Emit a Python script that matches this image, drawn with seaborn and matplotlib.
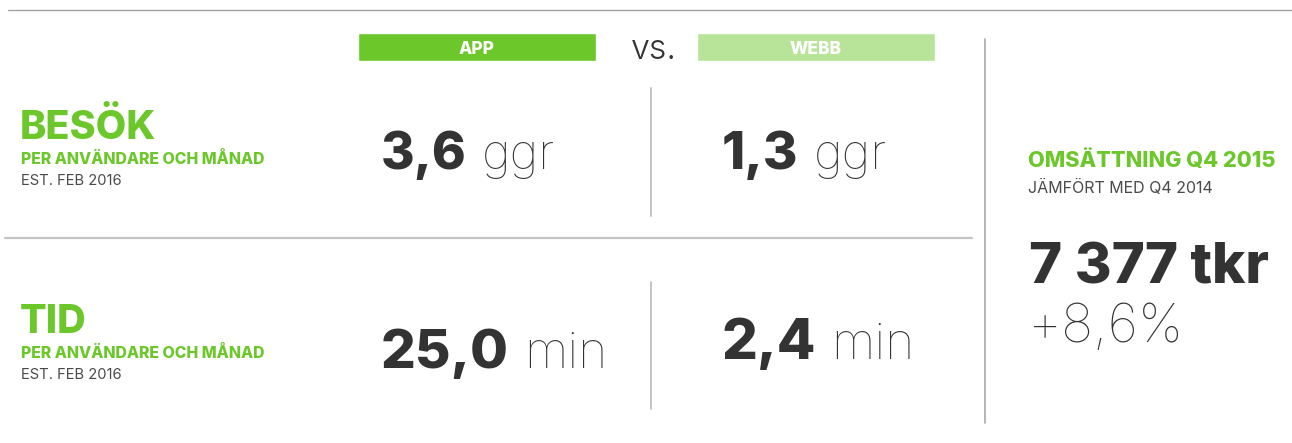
import numpy as np
import pandas as pd
import seaborn as sns
import matplotlib.pyplot as plt

# values read from the infographic
metrics = ["BESÖK", "TID"]
metric_subtitle = "PER ANVÄNDARE OCH MÅNAD"
metric_note = "EST. FEB 2016"
channels = ["APP", "WEBB"]
app_values = ["3,6", "25,0"]
web_values = ["1,3", "2,4"]
units = ["ggr", "min"]
revenue_title = "OMSÄTTNING Q4 2015"
revenue_note = "JÄMFÖRT MED Q4 2014"
revenue_value = "7 377 tkr"
revenue_change = "+8,6%"

GREEN = "#6cc72b"
LIGHT_GREEN = "#b8e49a"
DARK = "#333333"
GRAY = "#4a4a4a"
LINE = "#c4c4c4"

sns.set_theme(style="white")
plt.rcParams["font.family"] = ["Inter", "DejaVu Sans"]

fig = plt.figure(figsize=(12.92, 4.43), dpi=100)
ax = fig.add_axes([0, 0, 1, 1])
ax.set_xlim(0, 1292)
ax.set_ylim(443, 0)
ax.axis("off")

# frame lines
ax.plot([8, 1292], [9.5, 9.5], color="#a3a3a3", lw=1)
ax.plot([5, 972], [237.5, 237.5], color=LINE, lw=1.6)
ax.plot([651, 651], [88, 216], color=LINE, lw=1.4)
ax.plot([651, 651], [282, 409], color=LINE, lw=1.4)
ax.plot([984.5, 984.5], [39, 423], color="#a8a8a8", lw=1.2)

# channel header bars
header = pd.DataFrame({"channel": channels, "left": [358, 697], "color": [GREEN, LIGHT_GREEN]})
ax.barh(y=47, width=238, left=header["left"], height=28, color=header["color"])
for _, r in header.iterrows():
    ax.text(r["left"] + 119, 54, r["channel"], color="white", fontsize=12.5,
            fontweight=800, ha="center", va="baseline")
ax.text(631, 59, "vs.", color=DARK, fontsize=24.5, fontweight=300, va="baseline")

# row labels
title_base = [139, 333]
for i, m in enumerate(metrics):
    ax.text(20, title_base[i], m, color=GREEN, fontsize=28.5, fontweight=800, va="baseline")
    ax.text(21, title_base[i] + 25, metric_subtitle, color=GREEN, fontsize=11.4,
            fontweight=800, va="baseline")
    ax.text(21, title_base[i] + 46, metric_note, color=GRAY, fontsize=10.6, va="baseline")

renderer = fig.canvas.get_renderer()


def value_with_unit(x, y, value, unit, size, usize):
    t = ax.text(x, y, value, color=DARK, fontsize=size, fontweight=800, va="baseline")
    x1 = t.get_window_extent(renderer).x1
    ax.text(x1 + 15, y, unit, color=DARK, fontsize=usize, fontweight=100, va="baseline")


app_base = [169, 368]
web_base = [169, 359]
app_size = [37, 39.5]
web_size = [38, 40.6]
unit_size = [35.5, 36]
for i in range(len(metrics)):
    value_with_unit(381, app_base[i], app_values[i], units[i], app_size[i], unit_size[i])
    value_with_unit(722, web_base[i], web_values[i], units[i], web_size[i], unit_size[i])

# revenue block
ax.text(1028, 167, revenue_title, color=GREEN, fontsize=15.6, fontweight=800, va="baseline")
ax.text(1028, 193, revenue_note, color=GRAY, fontsize=11.5, va="baseline")
ax.text(1029, 283, revenue_value, color=DARK, fontsize=40.6, fontweight=800, va="baseline")
ax.text(1028, 342, revenue_change, color=DARK, fontsize=38.6, fontweight=100, va="baseline")

fig.savefig("out.png", dpi=100)
